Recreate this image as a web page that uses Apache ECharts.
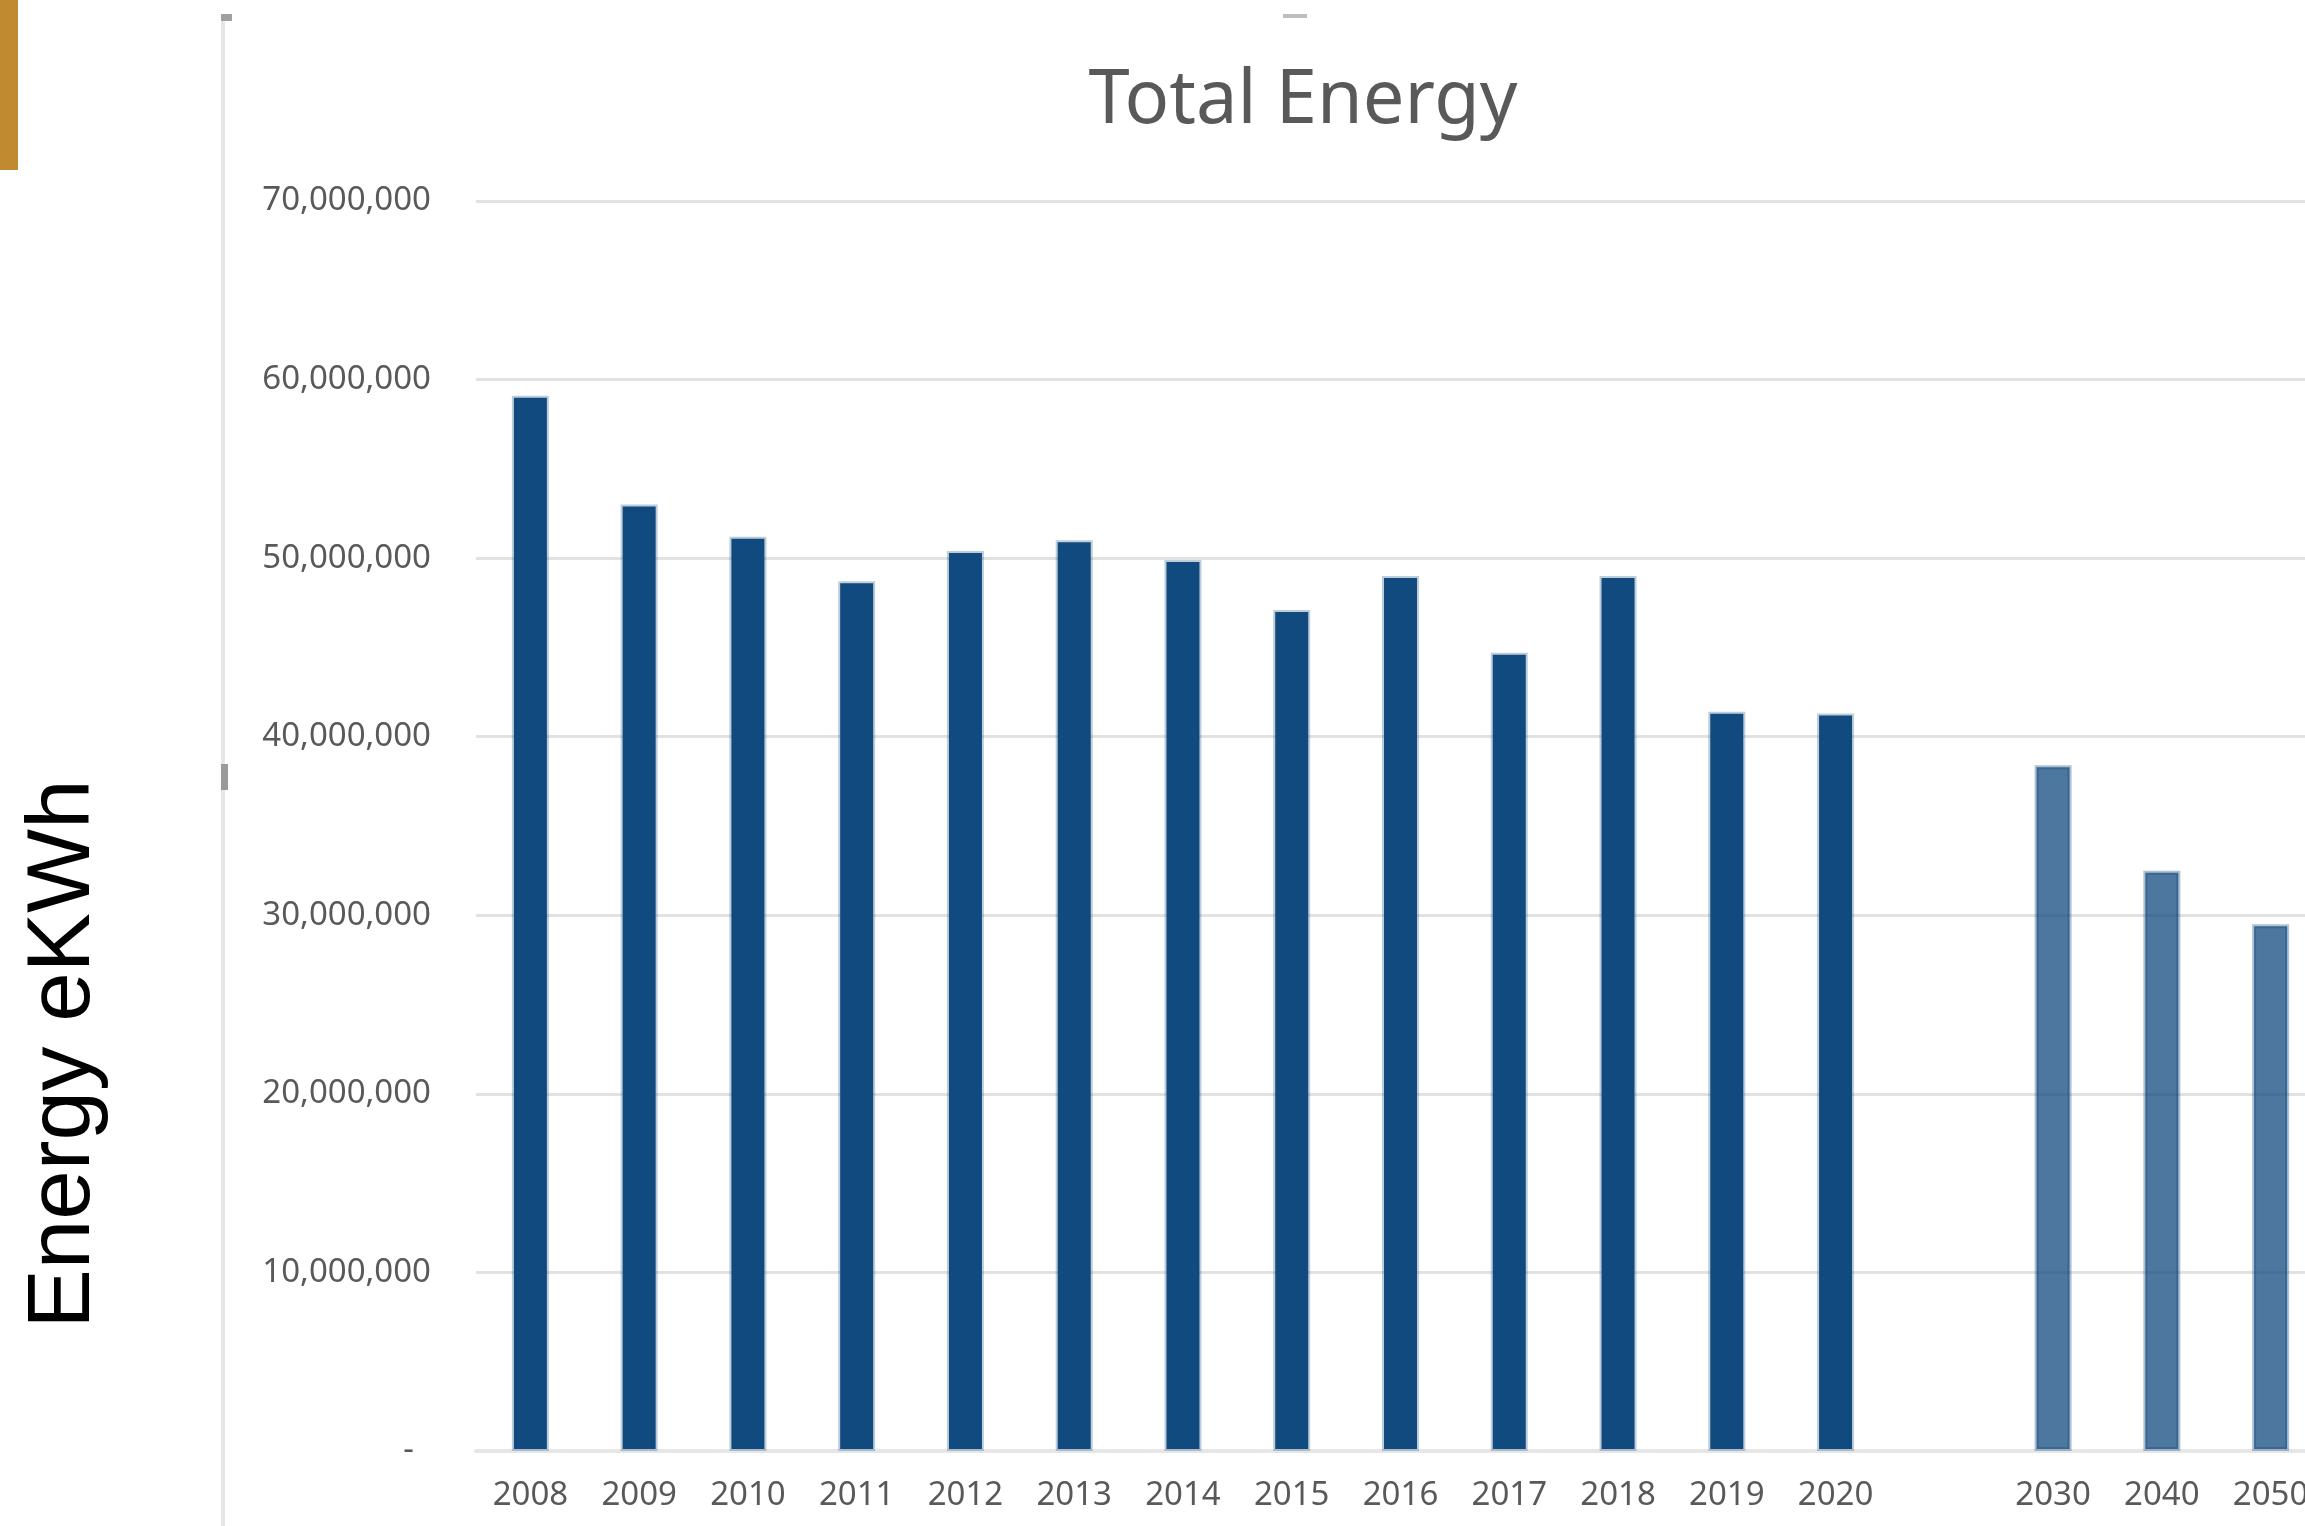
<!DOCTYPE html>
<html>
<head>
<meta charset="utf-8">
<title>Total Energy</title>
<script src="https://cdn.jsdelivr.net/npm/echarts@6/dist/echarts.min.js"></script>
<style>
    html, body {
        margin: 0;
        padding: 0;
        background: #fff;
    }
    #total-energy {
        width: 2305px;
        height: 1526px;
    }
</style>
</head>
<body>
<div id="total-energy"></div>
<script>
// 年份（2020 和 2030 之间留一个空位）
const years = ["2008", "2009", "2010", "2011", "2012", "2013", "2014", "2015",
    "2016", "2017", "2018", "2019", "2020", "", "2030", "2040", "2050"];
// eKWh
const energy = [59100000, 53000000, 51200000, 48700000, 50400000, 51000000,
    49900000, 47100000, 49000000, 44700000, 49000000, 41400000, 41300000,
    null, 38400000, 32500000, 29500000];
// 预测年份，颜色浅一些
const projectedYears = ["2030", "2040", "2050"];
const yTicks = [0, 10000000, 20000000, 30000000, 40000000, 50000000, 60000000, 70000000];

const chart = echarts.init(document.getElementById("total-energy"));

const barData = energy.map((v, i) => {
    const projected = projectedYears.includes(years[i]);
    return {
        value: v,
        itemStyle: projected
            ? { color: "rgba(17,74,126,0.75)", borderColor: "rgba(17,74,126,0.34)" }
            : { color: "#114a7e", borderColor: "rgba(17,74,126,0.28)" },
    };
});

chart.setOption({
    animation: false,
    title: {
        text: "Total Energy",
        left: 1298,
        top: 60,
        textAlign: "center",
        textStyle: {
            fontFamily: "Noto Sans",
            fontSize: 74,
            fontWeight: "normal",
            color: "#595959",
        },
    },
    // 图表右侧被截掉了一点，所以 right 为负
    grid: {
        left: 476,
        right: -20,
        top: 201,
        bottom: 75,
        outerBoundsMode: "none",
    },
    xAxis: {
        type: "category",
        data: years,
        axisTick: { show: false },
        axisLine: {
            lineStyle: { color: "#e6e6e6", width: 4 },
        },
        axisLabel: {
            margin: 28,
            fontFamily: "Noto Sans",
            fontSize: 33,
            color: "#595959",
        },
    },
    yAxis: {
        type: "value",
        min: yTicks[0],
        max: yTicks[yTicks.length - 1],
        interval: yTicks[1] - yTicks[0],
        axisLine: { show: false },
        axisTick: { show: false },
        splitLine: {
            lineStyle: { color: "#e2e2e2", width: 3 },
        },
        axisLabel: {
            margin: 45,
            fontFamily: "Noto Sans",
            fontSize: 33,
            color: "#595959",
            formatter(value) {
                // Excel 会计格式：0 显示为 "-"
                return value === 0 ? "-  " : value.toLocaleString("en-US");
            },
        },
    },
    series: [
        {
            name: "Total Energy",
            type: "bar",
            barWidth: 37,
            itemStyle: { borderWidth: 4 },
            data: barData,
        },
    ],
    graphic: [
        // 左上角金色块
        {
            type: "rect",
            shape: { x: 0, y: 0, width: 18, height: 170 },
            style: { fill: "#bf8a30" },
        },
        // 左侧竖线（截图边框）
        {
            type: "rect",
            shape: { x: 221, y: 14, width: 4, height: 1512 },
            style: { fill: "#e6e6e6" },
        },
        {
            type: "rect",
            shape: { x: 221, y: 14, width: 11, height: 7 },
            style: { fill: "#a0a0a0" },
        },
        {
            type: "rect",
            shape: { x: 221, y: 764, width: 7, height: 26 },
            style: { fill: "#9a9a9a" },
        },
        {
            type: "rect",
            shape: { x: 1283, y: 14, width: 24, height: 4 },
            style: { fill: "#bdbdbd" },
        },
        // 纵轴标题
        {
            type: "text",
            x: 64,
            y: 1054,
            rotation: Math.PI / 2,
            style: {
                text: "Energy eKWh",
                fontFamily: "Liberation Sans",
                fontSize: 89,
                fill: "#000",
                align: "center",
                verticalAlign: "middle",
            },
        },
    ],
});
</script>
</body>
</html>
